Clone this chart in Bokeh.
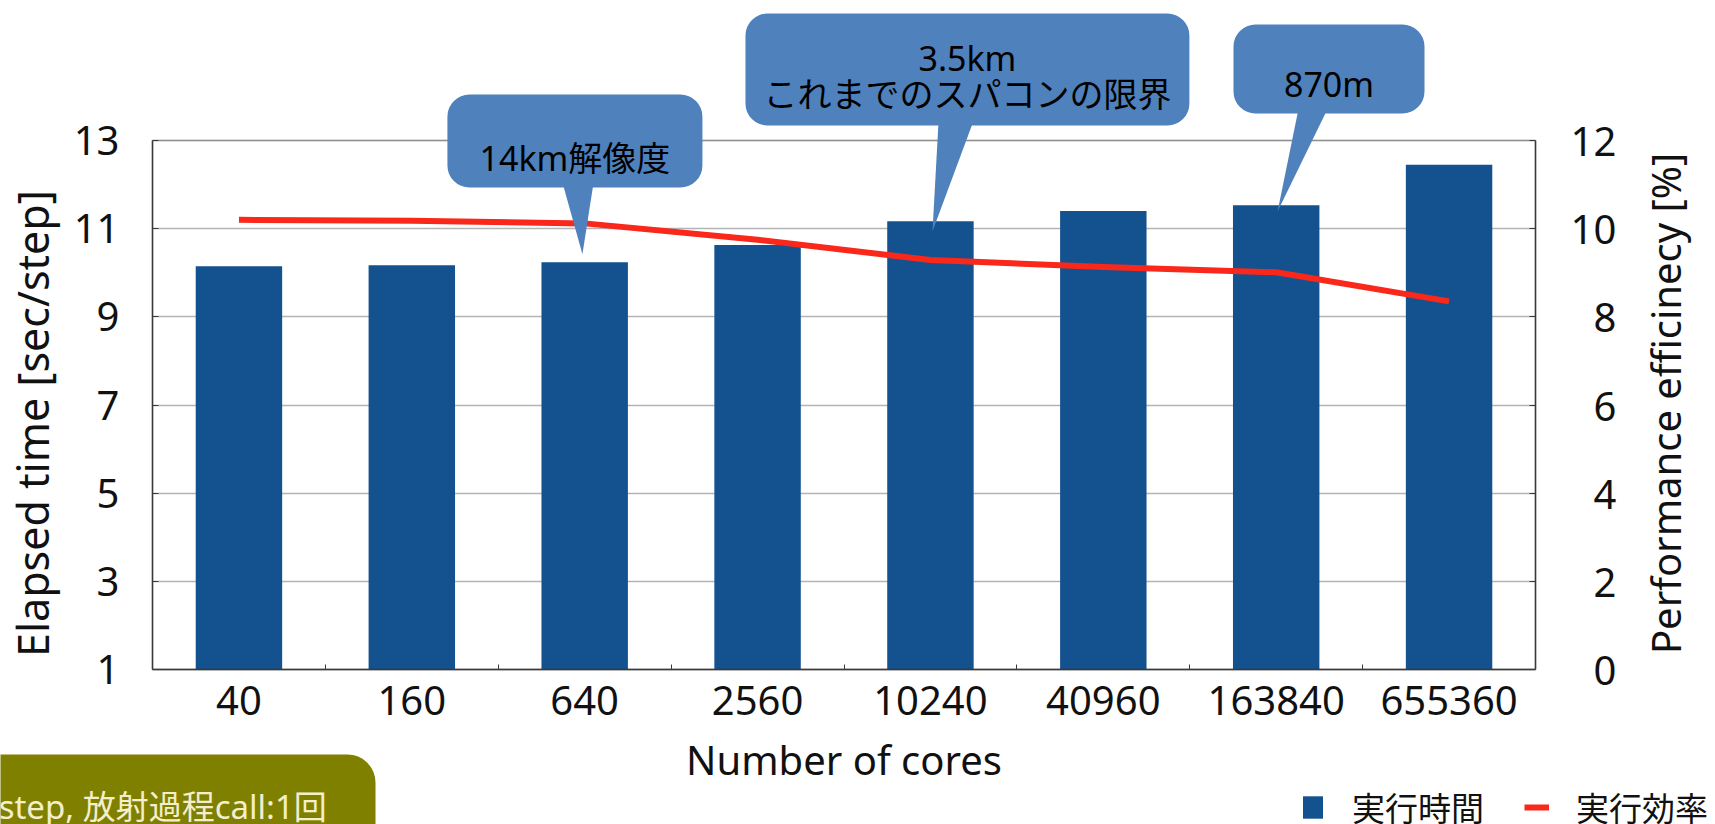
import math

from bokeh.plotting import figure
from bokeh.models import (Range1d, LinearAxis, FixedTicker, BoxAnnotation,
                          PolyAnnotation, Label, Legend, LegendItem)
from bokeh.embed import file_html
from bokeh.resources import INLINE

# ---- data -----------------------------------------------------------------
cores = ["40", "160", "640", "2560", "10240", "40960", "163840", "655360"]
elapsed_time = [10.15, 10.17, 10.24, 10.63, 11.17, 11.40, 11.53, 12.45]   # sec/step
efficiency = [10.20, 10.18, 10.12, 9.75, 9.29, 9.13, 9.01, 8.35]          # %
left_ticks = [1, 3, 5, 7, 9, 11, 13]
right_ticks = [0, 2, 4, 6, 8, 10, 12]
callout_texts = {
    "640": ["14km解像度"],
    "10240": ["3.5km", "これまでのスパコンの限界"],
    "163840": ["870m"],
}
note_text = "step, 放射過程call:1回"
legend_labels = ["実行時間", "実行効率"]
x_title = "Number of cores"
left_title = "Elapsed time [sec/step]"
right_title = "Performance efficinecy [%]"

# ---- styling ----------------------------------------------------------------
BAR = "#13528f"
RED = "#f9281a"
CALLOUT = "#4f81bd"
OLIVE = "#808000"
AXIS = "#3a3a3a"
TEXT = "#111111"
LATIN = "Noto Sans"
CJK = "Noto Sans CJK JP"
MIXED = "Noto Sans, Noto Sans CJK JP"

W, H = 1715, 824
n = len(cores)
xs = [i + 0.5 for i in range(n)]
pos = dict(zip(cores, xs))
val = dict(zip(cores, elapsed_time))

# The drawing area fills the whole canvas; the chart box spans x 0..n and
# y left_ticks[0]..left_ticks[-1], with margins around it for axes, callouts
# and the legend.
px_x = 172.875          # pixels per category
px_y = 44.083           # pixels per y unit
x_range = Range1d(-152 / px_x, n + 180 / px_x)
y_lo, y_hi = left_ticks[0], left_ticks[-1]
y_range = Range1d(y_lo - 155 / px_y, y_lo + 669 / px_y)
shift = left_ticks[0] - right_ticks[0]

p = figure(width=W, height=H, x_range=x_range, y_range=y_range,
           output_backend="svg", toolbar_location=None,
           min_border=0, min_border_left=0, min_border_right=0,
           min_border_top=0, min_border_bottom=0)
p.extra_y_ranges = {"eff": Range1d(y_range.start - shift, y_range.end - shift)}
p.background_fill_color = "white"
p.border_fill_color = "white"
p.outline_line_color = None

# grid, limited to the chart box
p.xgrid.visible = False
p.ygrid.ticker = FixedTicker(ticks=left_ticks)
p.ygrid.bounds = (y_lo, y_hi)
p.ygrid.cross_bounds = (0, n)
p.ygrid.grid_line_color = "#b4b4b4"
p.ygrid.grid_line_width = 1.5

# bars and line
bars = p.vbar(x=xs, top=elapsed_time, bottom=y_lo, width=0.5,
              fill_color=BAR, line_color=None)
eff_line = p.line(xs, efficiency, y_range_name="eff", line_color=RED,
                  line_width=6, line_join="round")

# chart box
p.add_layout(BoxAnnotation(left=0, right=n, bottom=y_lo, top=y_hi,
                           fill_alpha=0, line_color=AXIS, line_width=1.5,
                           level="overlay"))

# x axis: labels at category centres, small ticks at category boundaries
xa = p.xaxis[0]
xa.fixed_location = y_lo
xa.bounds = (0, n)
xa.ticker = FixedTicker(ticks=xs, minor_ticks=list(range(1, n)))
xa.major_label_overrides = {x: c for x, c in zip(xs, cores)}
xa.major_tick_in = 0
xa.major_tick_out = 0
xa.minor_tick_in = 5
xa.minor_tick_out = 0
xa.minor_tick_line_color = AXIS
xa.axis_label = x_title
xa.major_label_standoff = 16
xa.axis_label_standoff = 14

ya = p.yaxis[0]
ya.fixed_location = 0
ya.bounds = (y_lo, y_hi)
ya.ticker = FixedTicker(ticks=left_ticks)
ya.major_tick_in = 6
ya.major_tick_out = 0
ya.minor_tick_line_color = None
ya.major_label_standoff = 33

ra = LinearAxis(y_range_name="eff", ticker=FixedTicker(ticks=right_ticks))
ra.fixed_location = n
ra.bounds = (right_ticks[0], right_ticks[-1])
ra.major_label_overrides = {t: f"{t:>2}".replace(" ", "\u2007") for t in right_ticks}
ra.major_tick_in = 6
ra.major_tick_out = 0
ra.minor_tick_line_color = None
ra.major_label_standoff = 35
p.add_layout(ra, "right")

for ax in (xa, ya, ra):
    ax.axis_line_color = AXIS
    ax.axis_line_width = 1.5
    ax.major_tick_line_color = AXIS
    ax.major_label_text_font = LATIN
    ax.major_label_text_font_size = "40px"
    ax.major_label_text_color = TEXT
    ax.axis_label_text_font = LATIN
    ax.axis_label_text_font_size = "40px"
    ax.axis_label_text_font_style = "normal"
    ax.axis_label_text_color = TEXT

# vertical titles, both reading bottom to top
p.add_layout(Label(x=-120 / px_x, y=y_lo + 246 / px_y, text=left_title,
                   angle=math.pi / 2, text_align="center",
                   text_baseline="middle", text_font=LATIN,
                   text_font_size="43px", text_color=TEXT))
p.add_layout(Label(x=n + 130 / px_x, y=y_lo + 266 / px_y, text=right_title,
                   angle=math.pi / 2, text_align="center",
                   text_baseline="middle", text_font=LATIN,
                   text_font_size="40px", text_color=TEXT))

# ---- callouts (box, tail and text, placed relative to the bar they point at)
# (box left/right offsets from bar centre), (box bottom/top),
# (tail base offsets), (tip offset x, tip offset from bar top), text centre ys
boxes = {
    "640": ((-0.794, 0.681), (11.934, 14.044), (-0.128, 0.051), (-0.013, 0.18), [12.614]),
    "10240": ((-1.070, 1.498), (13.341, 15.881), (0.047, 0.249), (0.012, -0.23), [14.872, 14.044]),
    "163840": ((-0.247, 0.858), (13.613, 15.632), (0.129, 0.297), (0.008, -0.14), [14.293]),
}
for core, ((l, r), (b, t), (t0, t1), (dx, dy), text_y) in boxes.items():
    cx = pos[core]
    tail = PolyAnnotation(xs=[cx + t0, cx + t1, cx + dx],
                          ys=[b + 0.1, b + 0.1, val[core] + dy],
                          fill_color=CALLOUT, fill_alpha=1, line_color=None,
                          level="overlay")
    box = BoxAnnotation(left=cx + l, right=cx + r, bottom=b, top=t,
                        fill_color=CALLOUT, fill_alpha=1, line_color=None,
                        border_radius=22, level="overlay")
    p.add_layout(tail)
    p.add_layout(box)
    for line_text, ty in zip(callout_texts[core], text_y):
        p.add_layout(Label(x=cx + (l + r) / 2, y=ty, text=line_text,
                           text_align="center", text_baseline="middle",
                           text_font=MIXED, text_font_size="34px",
                           text_color="black", level="overlay"))

# ---- note box at the lower left
p.add_layout(BoxAnnotation(left=-1.2, right=1.290, bottom=-3.6, top=-0.928,
                           fill_color=OLIVE, fill_alpha=1, line_color=None,
                           border_radius=28))
p.add_layout(Label(x=-0.890, y=-2.10, text=note_text, text_align="left",
                   text_baseline="middle", text_font=MIXED,
                   text_font_size="33px", text_color="#f3eecb"))

# ---- legend at the bottom right
legend = Legend(items=[LegendItem(label=legend_labels[0], renderers=[bars]),
                       LegendItem(label=legend_labels[1], renderers=[eff_line])],
                orientation="horizontal", location=(1300, -7),
                padding=0, margin=0, spacing=40, label_standoff=27,
                glyph_width=25, glyph_height=28,
                label_text_font=CJK, label_text_font_size="33px",
                label_text_color=TEXT,
                border_line_alpha=0, background_fill_alpha=0)
p.add_layout(legend)

open("out.html", "w").write(file_html(p, INLINE))
